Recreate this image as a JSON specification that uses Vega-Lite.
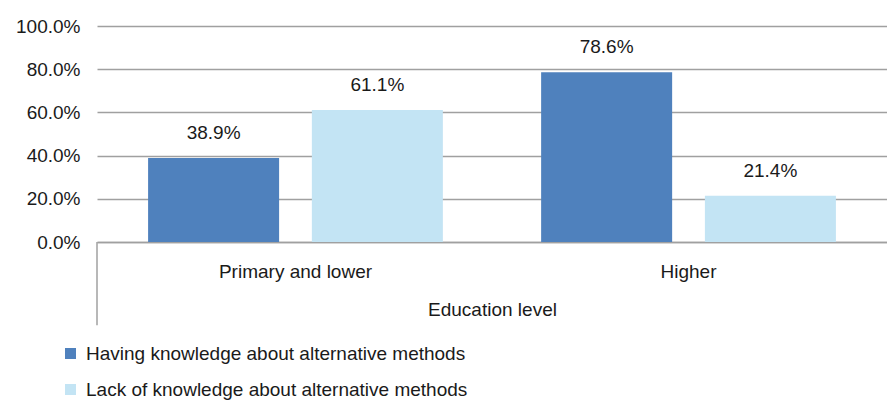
{
  "$schema": "https://vega.github.io/schema/vega-lite/v6.json",
  "autosize": "none",
  "width": 790,
  "height": 216,
  "padding": {"left": 97, "top": 26, "right": 0, "bottom": 161},
  "background": "white",
  "config": {
    "view": {"stroke": null},
    "font": "Liberation Sans"
  },
  "data": {
    "values": [
      {"level": "Primary and lower", "group": "Having knowledge about alternative methods", "share": 0.389},
      {"level": "Primary and lower", "group": "Lack of knowledge about alternative methods", "share": 0.611},
      {"level": "Higher", "group": "Having knowledge about alternative methods", "share": 0.786},
      {"level": "Higher", "group": "Lack of knowledge about alternative methods", "share": 0.214}
    ]
  },
  "encoding": {
    "x": {
      "field": "level", "type": "nominal", "sort": null,
      "scale": {"paddingInner": 0.25, "paddingOuter": 0.13},
      "axis": {
        "title": "Education level", "labelAngle": 0, "ticks": false,
        "domainColor": "#a0a0a0", "domainWidth": 1.5,
        "labelFont": "Liberation Sans", "titleFont": "Liberation Sans",
        "labelColor": "#1a1a1a", "titleColor": "#1a1a1a", "titleFontWeight": "normal",
        "labelFontSize": 19, "labelPadding": 20,
        "titleFontSize": 19, "titlePadding": 19, "labelLimit": 0
      }
    },
    "xOffset": {
      "field": "group", "type": "nominal", "sort": null,
      "scale": {"paddingInner": 0.2}
    },
    "y": {
      "field": "share", "type": "quantitative",
      "scale": {"domain": [0, 1]},
      "axis": {
        "title": null, "format": ".1%", "values": [0, 0.2, 0.4, 0.6, 0.8, 1],
        "domain": false, "ticks": false, "grid": true,
        "gridColor": "#a0a0a0", "gridWidth": 1.5,
        "labelFont": "Liberation Sans", "labelColor": "#1a1a1a",
        "labelFontSize": 19, "labelPadding": 17
      }
    }
  },
  "layer": [
    {
      "mark": {"type": "bar"},
      "encoding": {
        "color": {
          "field": "group", "type": "nominal", "sort": null,
          "scale": {"range": ["#4f81bd", "#c3e4f4"]},
          "legend": {
            "title": null, "orient": "none", "legendX": -36, "legendY": 318,
            "direction": "vertical", "symbolType": "square", "symbolSize": 121,
            "symbolStrokeWidth": 0, "labelFont": "Liberation Sans", "labelFontSize": 19, "labelColor": "#1a1a1a",
            "labelLimit": 0, "rowPadding": 16, "labelOffset": 6
          }
        }
      }
    },
    {
      "mark": {"type": "text", "font": "Liberation Sans", "baseline": "bottom", "dy": -15, "fontSize": 19, "color": "#1a1a1a"},
      "encoding": {
        "text": {"field": "share", "type": "quantitative", "format": ".1%"}
      }
    },
    {
      "data": {"values": [{"from": 0, "to": -0.385}]},
      "mark": {"type": "rule", "color": "#a0a0a0", "strokeWidth": 1.5, "clip": false},
      "encoding": {
        "x": {"value": 0},
        "xOffset": null,
        "y": {"field": "from", "type": "quantitative"},
        "y2": {"field": "to"}
      }
    }
  ]
}
